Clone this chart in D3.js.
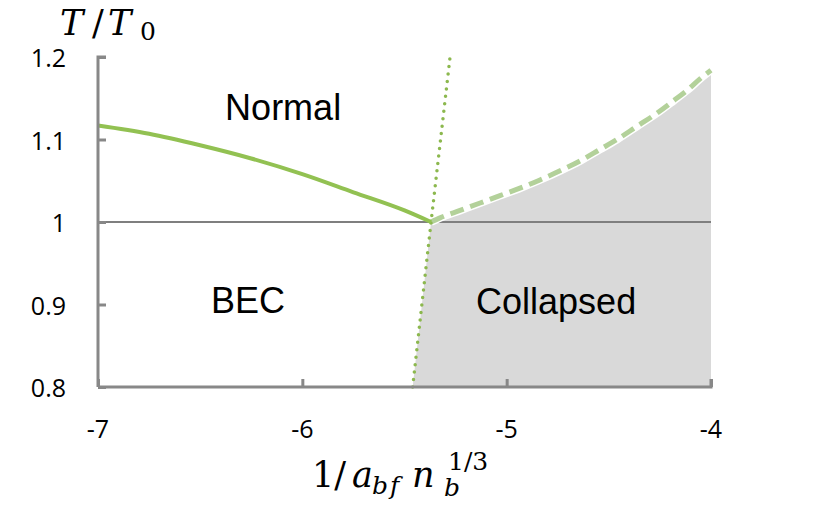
<!DOCTYPE html>
<html><head><meta charset="utf-8">
<script src="https://cdn.jsdelivr.net/npm/d3@7"></script>
<style>body{margin:0;background:#fff}svg{display:block}</style>
</head><body>
<svg id="c" width="814" height="506"></svg>
<script>
const xTicks = [-7, -6, -5, -4];
const xTickLabels = ["-7", "-6", "-5", "-4"];
const yTicks = [0.8, 0.9, 1.0, 1.1, 1.2];
const yTickLabels = ["0.8", "0.9", "1", "1.1", "1.2"];
// solid boundary Normal / BEC
const normalX = [-7, -6.75, -6.5, -6.25, -6, -5.75, -5.5, -5.37];
const normalY = [1.117, 1.107, 1.093, 1.077, 1.058, 1.036, 1.014, 1.0];
// dotted boundary BEC / Collapsed
const dotX = [-5.46, -5.37, -5.277];
const dotY = [0.8, 1.0, 1.2];
// dashed boundary Normal / Collapsed
const dashX = [-5.37, -5.326, -5.228, -5.13, -5.033, -4.935, -4.837, -4.739, -4.641, -4.543, -4.46, -4.362, -4.264, -4.183, -4.115, -4.051, -4.0];
const dashY = [1.0, 1.005, 1.014, 1.023, 1.032, 1.041, 1.051, 1.062, 1.074, 1.088, 1.1, 1.116, 1.132, 1.147, 1.16, 1.174, 1.184];
const regionLabels = ["Normal", "BEC", "Collapsed"];
const regionX = [-6.094, -6.266, -4.758];
const regionY = [1.1236, 0.8897, 0.8885];

const svg = d3.select("#c");
const x = d3.scaleLinear().domain([-7, -4]).range([98, 711]);
const y = d3.scaleLinear().domain([0.8, 1.2]).range([387, 57]);
const pts = (xs, ys) => xs.map((v, i) => [v, ys[i]]);
const curve = d3.line().x(d => x(d[0])).y(d => y(d[1])).curve(d3.curveMonotoneX);
const straight = d3.line().x(d => x(d[0])).y(d => y(d[1]));

// collapsed region fill
const dashPts = pts(dashX, dashY);
const fillPath = straight([[dotX[0], dotY[0]]]) + curve(dashPts).replace(/^M/, "L") +
  straight([[-4, 0.8]]).replace(/^M/, "L") + "Z";
svg.append("path").attr("d", fillPath).attr("fill", "#d9d9d9");

// y=1 line
svg.append("line").attr("x1", x(-7)).attr("x2", x(-4)).attr("y1", y(1)).attr("y2", y(1))
  .attr("stroke", "#7f7f7f").attr("stroke-width", 2);

// white halo + dashed
svg.append("path").attr("d", curve(dashPts))
  .attr("fill", "none").attr("stroke", "#fff").attr("stroke-width", 8);
svg.append("path").attr("d", curve(dashPts))
  .attr("fill", "none").attr("stroke", "#b3d19a").attr("stroke-width", 5)
  .attr("stroke-dasharray", "14,7");
// dotted
svg.append("path").attr("d", straight(pts(dotX, dotY)))
  .attr("fill", "none").attr("stroke", "#8cb84e").attr("stroke-width", 3.5)
  .attr("stroke-linecap", "round").attr("stroke-dasharray", "0,7.5");
// solid
svg.append("path").attr("d", curve(pts(normalX, normalY)))
  .attr("fill", "none").attr("stroke", "#92c152").attr("stroke-width", 4);

// axes
const axisColor = "#888888";
const gx = svg.append("g").attr("transform", `translate(0,${y(0.8)})`)
  .call(d3.axisTop(x).tickValues(xTicks).tickSize(8).tickFormat(() => ""));
const gy = svg.append("g").attr("transform", `translate(${x(-7)},0)`)
  .call(d3.axisRight(y).tickValues(yTicks).tickSize(8).tickFormat(() => ""));
[gx, gy].forEach(g => {
  g.select(".domain").attr("stroke", axisColor).attr("stroke-width", 3);
  g.selectAll(".tick line").attr("stroke", axisColor).attr("stroke-width", 3);
});
gx.select(".domain").attr("d", `M${x(-7)},0H${x(-4)}V-8`);
gy.select(".domain").attr("d", `M8,${y(1.2)}H0V${y(0.8)}`);

// tick labels
const tickFont = "'Open Sans', Lato, sans-serif";
svg.append("g").selectAll("text").data(xTicks).join("text")
  .attr("x", d => x(d)).attr("y", 438).attr("text-anchor", "middle")
  .attr("font-family", tickFont).attr("font-size", 25).attr("fill", "#000")
  .text((d, i) => xTickLabels[i]);
svg.append("g").selectAll("text").data(yTicks).join("text")
  .attr("x", 66).attr("y", d => y(d) + 10).attr("text-anchor", "end")
  .attr("font-family", tickFont).attr("font-size", 25).attr("fill", "#000")
  .text((d, i) => yTickLabels[i]);

// region labels
svg.append("g").selectAll("text").data(regionLabels).join("text")
  .attr("x", (d, i) => x(regionX[i])).attr("y", (d, i) => y(regionY[i]))
  .attr("text-anchor", "middle")
  .attr("font-family", "'Liberation Sans', Arial, sans-serif").attr("font-size", 36).attr("fill", "#000")
  .text(d => d);

// y title T/T0
const serif = "'DejaVu Serif', 'Liberation Serif', serif";
const yt = svg.append("text").attr("font-family", serif).attr("font-size", 35).attr("fill", "#000");
yt.append("tspan").attr("x", 60).attr("y", 35).attr("font-style", "italic").text("T");
yt.append("tspan").attr("x", 92).attr("y", 35).text("/");
yt.append("tspan").attr("x", 108).attr("y", 35).attr("font-style", "italic").text("T");
yt.append("tspan").attr("x", 140).attr("y", 40).attr("font-size", 25).text("0");

// x title
const xt = svg.append("text").attr("font-family", serif).attr("font-size", 35).attr("fill", "#000");
xt.append("tspan").attr("x", 312).attr("y", 487).text("1/");
xt.append("tspan").attr("x", 352).attr("y", 487).attr("font-style", "italic").text("a");
xt.append("tspan").attr("x", 372).attr("y", 494).attr("font-style", "italic").attr("font-size", 25).attr("letter-spacing", 2).text("bf");
xt.append("tspan").attr("x", 412).attr("y", 487).attr("font-style", "italic").text("n");
xt.append("tspan").attr("x", 444).attr("y", 496).attr("font-style", "italic").attr("font-size", 25).text("b");
xt.append("tspan").attr("x", 448).attr("y", 470).attr("font-size", 25).text("1/3");
</script>
</body></html>
